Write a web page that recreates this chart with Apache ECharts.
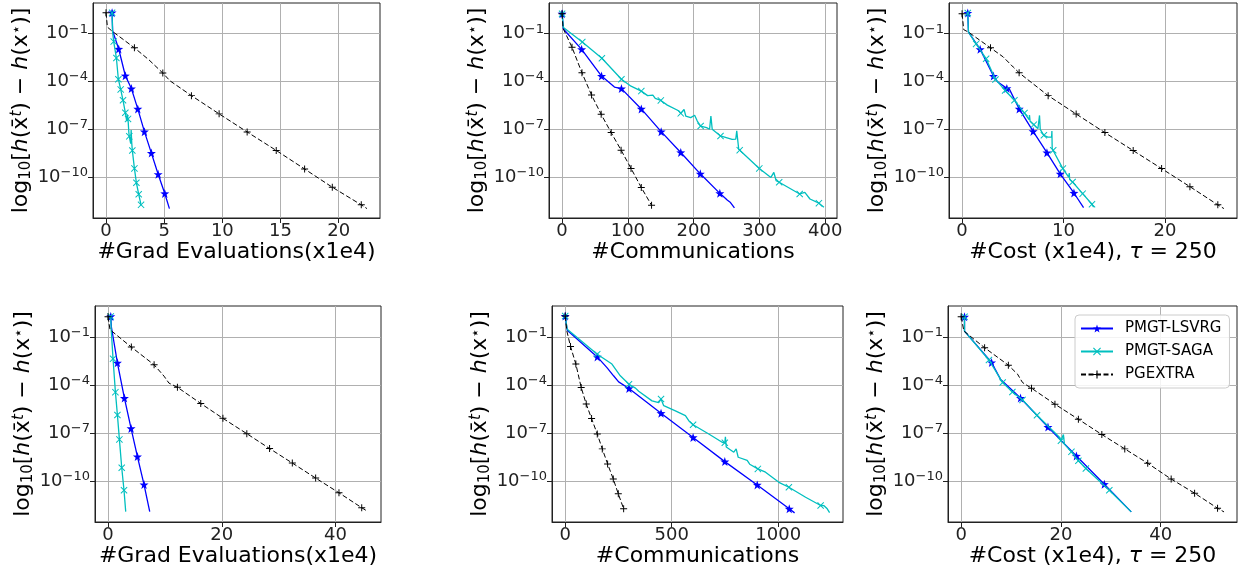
<!DOCTYPE html>
<html><head><meta charset="utf-8">
<script src="https://cdn.jsdelivr.net/npm/echarts@6/dist/echarts.min.js"></script>
<style>html,body{margin:0;padding:0;background:#fff}#c{width:1243px;height:576px}</style>
</head><body><div id="c"></div>
<script>
// ---------- data (x, objective gap) ----------
const P1_LSVRG = [[0.52,2.1],[0.57,0.15],[1.09,1.1e-2],[1.66,2.3e-4],[2.18,3.6e-5],[2.73,1.9e-6],[3.30,7.1e-8],[3.90,3.2e-9],[4.48,1.5e-10],[5.05,9.3e-12],[5.45,1.05e-12]];
const P1_LSVRG_MARKS = [0,2,3,4,5,6,7,8,9];
const P1_SAGA = [[0.52,2.1],[0.56,0.14],[0.66,3.2e-2],[0.89,3.0e-3],[1.06,1.4e-4],[1.26,3.2e-5],[1.46,6.6e-6],[1.66,1.1e-6],[1.78,3.2e-7],[1.84,7.9e-7],[1.89,4.5e-7],[1.96,6.3e-8],[2.0,3.6e-8],[2.12,1.26e-8],[2.16,8.9e-8],[2.21,1.4e-8],[2.26,4.7e-9],[2.44,3.5e-10],[2.61,4.4e-11],[2.81,8.3e-12],[3.01,1.8e-12]];
const P1_SAGA_MARKS = [0,2,3,4,5,6,7,10,12,16,17,18,19,20];
const P1_EXTRA = [[0,2.1],[0.12,0.26],[0.5,0.15],[2.44,1.3e-2],[3.66,2.4e-3],[4.88,3.4e-4],[5.5,1.1e-4],[7.34,1.3e-5],[9.72,9.3e-7],[12.13,6.8e-8],[14.63,4.7e-9],[17.07,3.2e-10],[19.45,2.3e-11],[21.94,1.8e-12],[22.43,1.05e-12]];
const P1_EXTRA_MARKS = [0,3,5,7,8,9,10,11,12,13];

const P2_LSVRG = [[0,1.8],[2,0.20],[29.7,1.05e-2],[60,2.2e-4],[79.6,4.5e-5],[90.2,3.6e-5],[120.4,1.9e-6],[150.6,7.1e-8],[180.4,3.5e-9],[210.1,1.6e-10],[239.8,9.5e-12],[251,3.6e-12],[256,2.5e-12],[262,1.15e-12]];
const P2_LSVRG_MARKS = [0,2,3,5,6,7,8,9,10];
const P2_SAGA = [[0,1.8],[2,0.25],[30.7,3.0e-2],[60.5,2.9e-3],[90.2,1.4e-4],[104.8,5.1e-5],[120.4,2.5e-5],[130,1.3e-5],[138,1.4e-5],[141.6,8.7e-6],[150.1,6.5e-6],[160,3.3e-6],[177.8,1.4e-6],[180.4,1.0e-6],[185.4,1.8e-6],[188,6.8e-7],[195.5,5.4e-7],[201.5,7.6e-7],[205.5,3.3e-7],[210.6,1.6e-7],[219.6,1.26e-7],[224.2,1.0e-7],[226.2,6.8e-7],[228.2,1.0e-7],[240.8,3.8e-8],[258.4,2.3e-8],[264,2.4e-8],[265.5,7.9e-8],[268.5,5.6e-9],[270,4.9e-9],[299.8,3.5e-10],[317.4,9.5e-11],[321.9,1.95e-10],[325.4,5.9e-11],[330,4.7e-11],[361.2,8.7e-12],[369,1.1e-11],[376.8,4.2e-12],[390.4,2.3e-12],[398,1.26e-12]];
const P2_SAGA_MARKS = [0,2,3,4,6,10,13,19,24,29,30,34,35,38];
const P2_EXTRA = [[0,1.8],[1.5,0.22],[15.1,1.4e-2],[30.2,3.5e-4],[44.8,1.4e-5],[59.4,8.7e-7],[74.6,6.2e-8],[89.7,4.9e-9],[104.8,3.5e-10],[120.4,2.2e-11],[136,1.7e-12]];
const P2_EXTRA_MARKS = [0,2,3,4,5,6,7,8,9,10];

const P3_LSVRG = [[0.56,2.0],[0.63,0.126],[1.78,1.05e-2],[3.09,2.2e-4],[3.52,9.3e-5],[4.41,3.7e-5],[4.67,3.2e-5],[5.63,1.9e-6],[7.0,7.4e-8],[8.36,3.4e-9],[9.67,1.6e-10],[11.02,1.0e-11],[11.97,1.2e-12]];
const P3_LSVRG_MARKS = [0,2,3,5,7,8,9,10,11];
const P3_SAGA = [[0.56,2.0],[0.63,0.126],[1.38,2.3e-2],[2.37,2.7e-3],[3.29,1.35e-4],[4.24,2.75e-5],[5.16,6.6e-6],[6.15,1.05e-6],[6.6,4.0e-7],[6.64,7.9e-7],[6.7,3.2e-7],[7.07,1.95e-7],[7.47,1.1e-7],[7.63,7.4e-7],[7.7,1.0e-7],[8.06,4.2e-8],[8.45,3.2e-8],[8.82,3.2e-8],[8.85,7.8e-8],[8.88,6.0e-9],[8.98,4.8e-9],[9.93,3.4e-10],[10.5,1.0e-10],[10.56,1.8e-10],[10.6,7.1e-11],[10.89,4.9e-11],[11.88,9.1e-12],[12.8,1.95e-12],[12.96,1.3e-12]];
const P3_SAGA_MARKS = [0,2,3,4,5,6,7,11,15,20,21,25,26,27];
const P3_EXTRA = [[0,1.8],[0.16,0.18],[0.63,0.126],[2.8,1.3e-2],[4.05,3.5e-3],[5.04,8.1e-4],[5.62,3.5e-4],[8.48,1.3e-5],[11.24,9.1e-7],[14.07,6.2e-8],[16.86,4.6e-9],[19.66,3.4e-10],[22.45,2.5e-11],[25.2,1.8e-12],[25.8,1.05e-12]];
const P3_EXTRA_MARKS = [0,3,6,7,8,9,10,11,12,13];

const P4_LSVRG = [[0.48,1.9],[0.6,0.4],[1.65,2.4e-3],[2.88,1.5e-5],[4.05,1.9e-7],[5.17,3.3e-9],[6.33,5.9e-11],[7.33,1.2e-12]];
const P4_LSVRG_MARKS = [0,2,3,4,5,6];
const P4_SAGA = [[0.48,1.9],[0.55,0.32],[0.88,4.3e-3],[1.3,3.5e-5],[1.65,1.3e-6],[2.0,3.9e-8],[2.41,6.6e-10],[2.81,2.6e-11],[3.11,1.2e-12]];
const P4_SAGA_MARKS = [0,2,3,4,5,6,7];
const P4_EXTRA = [[0,1.8],[0.35,0.28],[4.1,2.3e-2],[8.1,1.8e-3],[9.85,3.5e-4],[10.7,1.3e-4],[12.2,7.1e-5],[16.3,6.9e-6],[20.2,8.1e-7],[24.4,8.9e-8],[28.4,1.05e-8],[32.4,1.3e-9],[36.5,1.5e-10],[40.6,1.8e-11],[44.6,2.1e-12],[45.7,1.2e-12]];
const P4_EXTRA_MARKS = [0,2,3,6,7,8,9,10,11,12,13,14];

const P5_LSVRG = [[0,2.0],[9.4,0.26],[150.5,5.6e-3],[196,1.2e-3],[227,3.7e-4],[250.8,1.55e-4],[299.4,6.0e-5],[449.8,1.7e-6],[600.3,5.2e-8],[749.2,1.6e-9],[901.3,5.6e-11],[1051.7,1.8e-12],[1076.8,1.0e-12]];
const P5_LSVRG_MARKS = [0,2,6,7,8,9,10,11];
const P5_SAGA = [[0,2.0],[9.4,0.30],[150.5,8.3e-3],[219.4,2.0e-3],[258.6,3.7e-4],[299.4,1.1e-4],[330,6.3e-5],[337,7.9e-5],[345,4.0e-5],[407.5,1.0e-5],[438.9,7.9e-6],[449.8,1.3e-5],[462.4,5.0e-6],[517.2,2.4e-6],[564.3,1.2e-6],[580,5.8e-7],[600.3,3.2e-7],[674,8.5e-8],[736.7,2.6e-8],[749.2,2.4e-8],[752,5.6e-8],[756,1.3e-8],[791.5,6.2e-9],[802.5,1.0e-8],[812,3.0e-9],[854.2,1.9e-9],[860,2.5e-9],[866,1.1e-9],[904.4,5.6e-10],[940.4,3.5e-10],[1003,8.1e-11],[1050,4.0e-11],[1128.5,9.5e-12],[1199,2.9e-12],[1215,2.8e-12],[1230,1.8e-12],[1241,1.05e-12]];
const P5_SAGA_MARKS = [0,2,5,11,16,19,28,31,33];
const P5_EXTRA = [[0,2.0],[7.8,0.23],[25,2.5e-2],[50,2.0e-3],[75,6.9e-5],[98.7,6.3e-6],[123.8,7.8e-7],[150.5,8.5e-8],[174,1.0e-8],[199,1.15e-9],[225.7,1.3e-10],[249.2,1.55e-11],[274.3,1.8e-12]];
const P5_EXTRA_MARKS = [0,2,3,4,5,6,7,8,9,10,11,12];

const P6_LSVRG = [[0.67,1.8],[0.67,0.23],[6.1,2.5e-3],[7.9,2.2e-4],[8.4,1.55e-4],[11.9,1.5e-5],[17.4,2.3e-7],[23.1,3.6e-9],[28.7,6.2e-11],[34.1,1.15e-12]];
const P6_LSVRG_MARKS = [0,2,5,6,7,8];
const P6_SAGA = [[0.67,1.8],[0.67,0.23],[5.57,3.6e-3],[8.32,1.4e-4],[10.27,3.6e-5],[12.3,1.15e-5],[15.2,1.26e-6],[17.5,2.5e-7],[19.8,5.0e-8],[20.0,3.2e-8],[20.5,7.9e-8],[20.7,2.0e-8],[22.1,6.5e-9],[23.5,1.8e-9],[25.0,5.9e-10],[29.7,2.6e-11],[34.1,1.15e-12]];
const P6_SAGA_MARKS = [0,2,3,4,5,6,9,12,13,14,15];
const P6_EXTRA = [[0,1.8],[0.54,0.23],[4.7,2.1e-2],[9.46,1.7e-3],[11.3,4.7e-4],[12.3,1.4e-4],[14.1,6.2e-5],[18.8,6.2e-6],[23.5,7.1e-7],[28.2,7.9e-8],[32.8,1.0e-8],[37.4,1.26e-9],[42.1,1.3e-10],[46.8,1.7e-11],[51.4,1.95e-12],[52.7,1.15e-12]];
const P6_EXTRA_MARKS = [0,2,3,6,7,8,9,10,11,12,13,14];

const SERIES_NAMES = ['PMGT-LSVRG','PMGT-SAGA','PGEXTRA'];
const X_TICKS = [[0,5,10,15,20],[0,100,200,300,400],[0,10,20],[0,20,40],[0,500,1000],[0,20,40]];
const Y_TICKS = [1e-10,1e-7,1e-4,1e-1];
const X_NAMES = ['#Grad Evaluations(x1e4)','#Communications','{t|#Cost (x1e4), }{i|τ}{t| = 250}',
                 '#Grad Evaluations(x1e4)','#Communications','{t|#Cost (x1e4), }{i|τ}{t| = 250}'];
const Y_NAME = '{t|log}{sub|10}{t|[}{i|h}{t|(x̄}{supi|t}{t|) − }{i|h}{t|(x}{sup|⋆}{t|)]}';

const PANEL_DATA = [
  [[P1_LSVRG,P1_LSVRG_MARKS],[P1_SAGA,P1_SAGA_MARKS],[P1_EXTRA,P1_EXTRA_MARKS]],
  [[P2_LSVRG,P2_LSVRG_MARKS],[P2_SAGA,P2_SAGA_MARKS],[P2_EXTRA,P2_EXTRA_MARKS]],
  [[P3_LSVRG,P3_LSVRG_MARKS],[P3_SAGA,P3_SAGA_MARKS],[P3_EXTRA,P3_EXTRA_MARKS]],
  [[P4_LSVRG,P4_LSVRG_MARKS],[P4_SAGA,P4_SAGA_MARKS],[P4_EXTRA,P4_EXTRA_MARKS]],
  [[P5_LSVRG,P5_LSVRG_MARKS],[P5_SAGA,P5_SAGA_MARKS],[P5_EXTRA,P5_EXTRA_MARKS]],
  [[P6_LSVRG,P6_LSVRG_MARKS],[P6_SAGA,P6_SAGA_MARKS],[P6_EXTRA,P6_EXTRA_MARKS]]
];

// ---------- layout / style ----------
const FONT = 'DejaVu Sans';
const GRIDS = [
  {left:93, top:3, width:287, height:215},
  {left:549, top:3, width:288, height:215},
  {left:949, top:3, width:288, height:215},
  {left:95, top:306, width:286, height:216},
  {left:552, top:306, width:291, height:216},
  {left:948, top:306, width:289, height:216}
];
const X_RANGE = [[-1.12,23.55],[-19.9,417.9],[-1.29,27.09],[-2.29,47.99],[-62,1304],[-2.64,55.3]];
const Y_EXP = [0.93,-12.57];

const STAR = 'path://M0,-10 L2.35,-3.24 L9.51,-3.09 L3.8,1.24 L5.88,8.09 L0,4 L-5.88,8.09 L-3.8,1.24 L-9.51,-3.09 L-2.35,-3.24 Z';
const XMARK = 'path://M-5,-4 L-4,-5 L0,-1 L4,-5 L5,-4 L1,0 L5,4 L4,5 L0,1 L-4,5 L-5,4 L-1,0 Z';
const PLUS = 'path://M-0.7,-5 L0.7,-5 L0.7,-0.7 L5,-0.7 L5,0.7 L0.7,0.7 L0.7,5 L-0.7,5 L-0.7,0.7 L-5,0.7 L-5,-0.7 L-0.7,-0.7 Z';
const STYLE = [
  {color:'#0000ff', symbol:STAR, size:9, width:1.3, type:'solid'},
  {color:'#00bfbf', symbol:XMARK, size:7, width:1.3, type:'solid'},
  {color:'#000000', symbol:PLUS, size:7, width:1, type:[5,2.5]}
];

const grid = [], xAxis = [], yAxis = [], series = [];
GRIDS.forEach((g, gi) => {
  grid.push(Object.assign({show:true, borderColor:'#222', borderWidth:1, containLabel:false, outerBoundsMode:'none'}, g));
  xAxis.push({
    gridIndex:gi, type:'value', min:X_RANGE[gi][0], max:X_RANGE[gi][1],
    axisLine:{show:true, onZero:false, lineStyle:{color:'#222', width:1}},
    axisTick:{show:true, customValues:X_TICKS[gi], length:5, inside:false, lineStyle:{color:'#222'}},
    axisLabel:{customValues:X_TICKS[gi], fontSize:18, color:'#222', fontFamily:FONT, margin:4,
      formatter:function(v){ return String(v); }},
    splitLine:{show:true, lineStyle:{color:'#b0b0b0', width:1}},
    name:X_NAMES[gi], nameLocation:'middle', nameGap:23,
    nameTextStyle:{fontSize:22, color:'#000', fontFamily:FONT,
      rich:{t:{fontSize:22, color:'#000', fontFamily:FONT}, i:{fontSize:22, color:'#000', fontFamily:FONT, fontStyle:'italic'}}}
  });
  yAxis.push({
    gridIndex:gi, type:'log', logBase:10, min:Math.pow(10,Y_EXP[1]), max:Math.pow(10,Y_EXP[0]),
    axisLine:{show:true, onZero:false, lineStyle:{color:'#222', width:1}},
    axisTick:{show:true, customValues:Y_TICKS, length:5, inside:false, lineStyle:{color:'#222'}},
    axisLabel:{customValues:Y_TICKS, margin:5, color:'#222', fontFamily:FONT,
      formatter:function(v){ const n = Math.round(Math.log10(v)); return '{b|10}{s|' + (n<0?'−':'') + Math.abs(n) + '}'; },
      rich:{b:{fontSize:18, color:'#222', fontFamily:FONT}, s:{fontSize:13, color:'#222', fontFamily:FONT, padding:[0,0,9,0]}}},
    splitLine:{show:true, lineStyle:{color:'#b0b0b0', width:1}},
    minorTick:{show:false}, minorSplitLine:{show:false},
    name:Y_NAME, nameLocation:'middle', nameRotate:90, nameGap:58,
    nameTextStyle:{fontSize:22, color:'#000', fontFamily:FONT,
      rich:{t:{fontSize:22, color:'#000', fontFamily:FONT},
            i:{fontSize:22, color:'#000', fontFamily:FONT, fontStyle:'italic'},
            sub:{fontSize:15, color:'#000', fontFamily:FONT, padding:[9,0,0,0]},
            sup:{fontSize:15, color:'#000', fontFamily:FONT, padding:[0,0,10,0]},
            supi:{fontSize:15, color:'#000', fontFamily:FONT, fontStyle:'italic', padding:[0,0,10,0]}}}
  });
  PANEL_DATA[gi].forEach((pair, si) => {
    const st = STYLE[si];
    const pts = pair[0], marks = pair[1];
    series.push({
      type:'line', name:SERIES_NAMES[si], xAxisIndex:gi, yAxisIndex:gi,
      data: pts.map((p,i) => marks.indexOf(i) >= 0 ? {value:p} : {value:p, symbol:'none'}),
      symbol:st.symbol, symbolSize:st.size, showAllSymbol:true, showSymbol:true,
      lineStyle:{color:st.color, width:st.width, type:st.type},
      itemStyle:{color:st.color, borderWidth:0},
      emphasis:{disabled:true}, silent:true, animation:false, z:2+si
    });
  });
});

const chart = echarts.init(document.getElementById('c'), null, {renderer:'canvas'});
chart.setOption({
  backgroundColor:'#fff', animation:false,
  textStyle:{fontFamily:FONT},
  grid, xAxis, yAxis, series,
  legend:{
    data:SERIES_NAMES, orient:'vertical', left:1075, top:315,
    itemWidth:32, itemHeight:10, itemGap:8, padding:[6,8,6,5],
    borderColor:'#cccccc', borderWidth:1, borderRadius:4, backgroundColor:'rgba(255,255,255,0.85)',
    selectedMode:false,
    formatter:function(name){ return '{n|' + name + '}'; },
    textStyle:{fontSize:15, color:'#000', fontFamily:FONT,
      rich:{n:{fontSize:15, color:'#000', fontFamily:FONT, padding:[0,0,0,7]}}}
  }
});
</script></body></html>
